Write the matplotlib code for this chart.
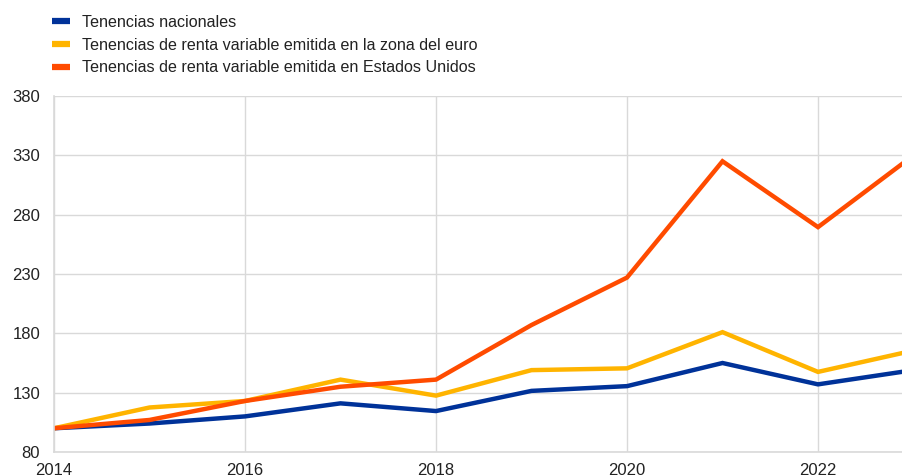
import matplotlib.pyplot as plt

plt.rcParams['font.family'] = ['Liberation Sans', 'DejaVu Sans']

# data (index, 2014 = 100)
years = [2014, 2015, 2016, 2017, 2018, 2019, 2020, 2021, 2022, 2023]
nacionales = [100, 104, 110, 121, 114.5, 131.5, 135.5, 155, 137, 149]
zona_euro = [100, 117.5, 123, 141, 127.5, 149, 150.5, 181, 147.5, 165.5]
estados_unidos = [100, 107, 123, 135, 141, 187, 227, 325, 269.5, 330]

labels = ['Tenencias nacionales',
          'Tenencias de renta variable emitida en la zona del euro',
          'Tenencias de renta variable emitida en Estados Unidos']
colors = ['#003299', '#ffb400', '#ff4b00']
yticks = [80, 130, 180, 230, 280, 330, 380]
xticks = [2014, 2016, 2018, 2020, 2022]

fig = plt.figure(figsize=(9.03, 4.75), dpi=100)
# axes runs a bit past the right edge, as the original is cropped there
ax = fig.add_axes([54 / 903, 1 - 452 / 475, (913.5 - 54) / 903, (452 - 96) / 475])

for series, lab, col in zip([nacionales, zona_euro, estados_unidos], labels, colors):
    ax.plot(years, series, color=col, lw=3.2, label=lab, solid_joinstyle='miter')

ax.set_xlim(2014, 2023)
ax.set_ylim(80, 380)
ax.set_xticks(xticks)
ax.set_yticks(yticks)
ax.grid(True, color='#d9d9d9', lw=1)
ax.set_axisbelow(True)
for s in ['top', 'right']:
    ax.spines[s].set_visible(False)
for s in ['left', 'bottom']:
    ax.spines[s].set_color('#d9d9d9')
    ax.spines[s].set_linewidth(1.2)
ax.tick_params(length=0, labelsize=12, colors='#222222')
ax.tick_params(axis='x', pad=8)
ax.tick_params(axis='y', pad=10)

leg = ax.legend(loc='upper left', bbox_to_anchor=(52 / 903, 1 - 15 / 475),
                bbox_transform=fig.transFigure, frameon=False, fontsize=11.6,
                handlelength=1.1, handletextpad=0.75, labelspacing=0.48,
                borderaxespad=0, borderpad=0)
for h in leg.get_lines():
    h.set_linewidth(4.5)
    h.set_solid_capstyle('butt')
for t in leg.get_texts():
    t.set_color('#222222')

fig.savefig('out.png', dpi=100)
